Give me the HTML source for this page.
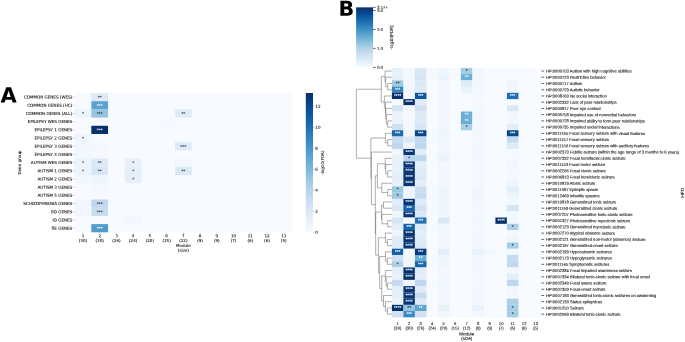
<!DOCTYPE html>
<html lang="en"><head><meta charset="utf-8"><title>Figure</title>
<style>html,body{margin:0;padding:0;background:#fff}svg{display:block;text-rendering:geometricPrecision}</style>
</head><body>
<svg width="685" height="342" viewBox="0 0 685 342">
<defs>
<linearGradient id="gb" x1="0" y1="0" x2="0" y2="1"><stop offset="0.0000" stop-color="#08306b"/><stop offset="0.0625" stop-color="#084082"/><stop offset="0.1250" stop-color="#08509b"/><stop offset="0.1875" stop-color="#1460a8"/><stop offset="0.2500" stop-color="#2070b4"/><stop offset="0.3125" stop-color="#3181bd"/><stop offset="0.3750" stop-color="#4191c6"/><stop offset="0.4375" stop-color="#56a0ce"/><stop offset="0.5000" stop-color="#6aaed6"/><stop offset="0.5625" stop-color="#84bcdb"/><stop offset="0.6250" stop-color="#9dcae1"/><stop offset="0.6875" stop-color="#b2d2e8"/><stop offset="0.7500" stop-color="#c6dbef"/><stop offset="0.8125" stop-color="#d2e3f3"/><stop offset="0.8750" stop-color="#deebf7"/><stop offset="0.9375" stop-color="#eaf3fb"/><stop offset="1.0000" stop-color="#f7fbff"/></linearGradient>
</defs>
<rect width="685" height="342" fill="#fff"/>
<g>
<g id="panelA" font-family="DejaVu Sans, Liberation Sans, sans-serif" font-size="4.08" fill="#111" stroke="#111" stroke-width="0.09">
<rect x="74.6" y="93.0" width="217.50" height="139.30" fill="#f7fbff" stroke="none"/>
<rect x="91.33" y="93.00" width="16.73" height="8.19" fill="#ddeaf7" stroke="none"/>
<rect x="91.33" y="101.19" width="16.73" height="8.19" fill="#5ba3d0" stroke="none"/>
<rect x="74.60" y="109.39" width="16.73" height="8.19" fill="#ecf4fb" stroke="none"/>
<rect x="91.33" y="109.39" width="16.73" height="8.19" fill="#94c4df" stroke="none"/>
<rect x="174.98" y="109.39" width="16.73" height="8.19" fill="#dfecf7" stroke="none"/>
<rect x="158.25" y="117.58" width="16.73" height="8.19" fill="#f5f9fe" stroke="none"/>
<rect x="91.33" y="125.78" width="16.73" height="8.19" fill="#08306b" stroke="none"/>
<rect x="74.60" y="133.97" width="16.73" height="8.19" fill="#eef5fc" stroke="none"/>
<rect x="74.60" y="142.16" width="16.73" height="8.19" fill="#f1f7fd" stroke="none"/>
<rect x="91.33" y="142.16" width="16.73" height="8.19" fill="#f3f8fe" stroke="none"/>
<rect x="174.98" y="142.16" width="16.73" height="8.19" fill="#ddeaf7" stroke="none"/>
<rect x="74.60" y="150.36" width="16.73" height="8.19" fill="#f3f8fe" stroke="none"/>
<rect x="91.33" y="150.36" width="16.73" height="8.19" fill="#f5f9fe" stroke="none"/>
<rect x="74.60" y="158.55" width="16.73" height="8.19" fill="#ebf3fb" stroke="none"/>
<rect x="91.33" y="158.55" width="16.73" height="8.19" fill="#dce9f6" stroke="none"/>
<rect x="124.79" y="158.55" width="16.73" height="8.19" fill="#e7f0fa" stroke="none"/>
<rect x="174.98" y="158.55" width="16.73" height="8.19" fill="#f2f7fd" stroke="none"/>
<rect x="74.60" y="166.75" width="16.73" height="8.19" fill="#ebf3fb" stroke="none"/>
<rect x="91.33" y="166.75" width="16.73" height="8.19" fill="#d8e7f5" stroke="none"/>
<rect x="124.79" y="166.75" width="16.73" height="8.19" fill="#e5eff9" stroke="none"/>
<rect x="174.98" y="166.75" width="16.73" height="8.19" fill="#d9e8f5" stroke="none"/>
<rect x="74.60" y="174.94" width="16.73" height="8.19" fill="#f2f7fd" stroke="none"/>
<rect x="91.33" y="174.94" width="16.73" height="8.19" fill="#eef5fc" stroke="none"/>
<rect x="124.79" y="174.94" width="16.73" height="8.19" fill="#e5eff9" stroke="none"/>
<rect x="91.33" y="183.14" width="16.73" height="8.19" fill="#f3f8fe" stroke="none"/>
<rect x="158.25" y="183.14" width="16.73" height="8.19" fill="#f5fafe" stroke="none"/>
<rect x="91.33" y="191.33" width="16.73" height="8.19" fill="#f5f9fe" stroke="none"/>
<rect x="74.60" y="199.52" width="16.73" height="8.19" fill="#f2f7fd" stroke="none"/>
<rect x="91.33" y="199.52" width="16.73" height="8.19" fill="#bfd8ed" stroke="none"/>
<rect x="74.60" y="207.72" width="16.73" height="8.19" fill="#f2f7fd" stroke="none"/>
<rect x="91.33" y="207.72" width="16.73" height="8.19" fill="#c8dcf0" stroke="none"/>
<rect x="124.79" y="215.91" width="16.73" height="8.19" fill="#f3f8fe" stroke="none"/>
<rect x="91.33" y="224.11" width="16.73" height="8.19" fill="#519ccc" stroke="none"/>
<text transform="rotate(0.05 99.70 98.75)" x="99.70" y="98.75" text-anchor="middle" fill="#262626" stroke="#262626">**</text>
<text transform="rotate(0.05 99.70 106.94)" x="99.70" y="106.94" text-anchor="middle" fill="#ffffff" stroke="#ffffff">***</text>
<text transform="rotate(0.05 82.97 115.14)" x="82.97" y="115.14" text-anchor="middle" fill="#262626" stroke="#262626">*</text>
<text transform="rotate(0.05 99.70 115.14)" x="99.70" y="115.14" text-anchor="middle" fill="#262626" stroke="#262626">***</text>
<text transform="rotate(0.05 183.35 115.14)" x="183.35" y="115.14" text-anchor="middle" fill="#262626" stroke="#262626">**</text>
<text transform="rotate(0.05 99.70 131.52)" x="99.70" y="131.52" text-anchor="middle" fill="#ffffff" stroke="#ffffff">***</text>
<text transform="rotate(0.05 82.97 139.72)" x="82.97" y="139.72" text-anchor="middle" fill="#262626" stroke="#262626">*</text>
<text transform="rotate(0.05 183.35 147.91)" x="183.35" y="147.91" text-anchor="middle" fill="#262626" stroke="#262626">***</text>
<text transform="rotate(0.05 82.97 164.30)" x="82.97" y="164.30" text-anchor="middle" fill="#262626" stroke="#262626">*</text>
<text transform="rotate(0.05 99.70 164.30)" x="99.70" y="164.30" text-anchor="middle" fill="#262626" stroke="#262626">**</text>
<text transform="rotate(0.05 133.16 164.30)" x="133.16" y="164.30" text-anchor="middle" fill="#262626" stroke="#262626">*</text>
<text transform="rotate(0.05 82.97 172.49)" x="82.97" y="172.49" text-anchor="middle" fill="#262626" stroke="#262626">*</text>
<text transform="rotate(0.05 99.70 172.49)" x="99.70" y="172.49" text-anchor="middle" fill="#262626" stroke="#262626">**</text>
<text transform="rotate(0.05 133.16 172.49)" x="133.16" y="172.49" text-anchor="middle" fill="#262626" stroke="#262626">*</text>
<text transform="rotate(0.05 183.35 172.49)" x="183.35" y="172.49" text-anchor="middle" fill="#262626" stroke="#262626">**</text>
<text transform="rotate(0.05 133.16 180.69)" x="133.16" y="180.69" text-anchor="middle" fill="#262626" stroke="#262626">*</text>
<text transform="rotate(0.05 99.70 205.27)" x="99.70" y="205.27" text-anchor="middle" fill="#262626" stroke="#262626">***</text>
<text transform="rotate(0.05 99.70 213.46)" x="99.70" y="213.46" text-anchor="middle" fill="#262626" stroke="#262626">***</text>
<text transform="rotate(0.05 99.70 229.85)" x="99.70" y="229.85" text-anchor="middle" fill="#ffffff" stroke="#ffffff">***</text>
<text transform="rotate(0.05 72.20 98.55)" x="72.20" y="98.55" text-anchor="end">COMMON GENES (WES)</text>
<line x1="72.60" x2="74.60" y1="97.10" y2="97.10" stroke="#555" stroke-width="0.35"/>
<text transform="rotate(0.05 72.20 106.74)" x="72.20" y="106.74" text-anchor="end">COMMON GENES (HC)</text>
<line x1="72.60" x2="74.60" y1="105.29" y2="105.29" stroke="#555" stroke-width="0.35"/>
<text transform="rotate(0.05 72.20 114.94)" x="72.20" y="114.94" text-anchor="end">COMMON GENES (ALL)</text>
<line x1="72.60" x2="74.60" y1="113.49" y2="113.49" stroke="#555" stroke-width="0.35"/>
<text transform="rotate(0.05 72.20 123.13)" x="72.20" y="123.13" text-anchor="end">EPILEPSY WES GENES</text>
<line x1="72.60" x2="74.60" y1="121.68" y2="121.68" stroke="#555" stroke-width="0.35"/>
<text transform="rotate(0.05 72.20 131.32)" x="72.20" y="131.32" text-anchor="end">EPILEPSY 1 GENES</text>
<line x1="72.60" x2="74.60" y1="129.87" y2="129.87" stroke="#555" stroke-width="0.35"/>
<text transform="rotate(0.05 72.20 139.52)" x="72.20" y="139.52" text-anchor="end">EPILEPSY 2 GENES</text>
<line x1="72.60" x2="74.60" y1="138.07" y2="138.07" stroke="#555" stroke-width="0.35"/>
<text transform="rotate(0.05 72.20 147.71)" x="72.20" y="147.71" text-anchor="end">EPILEPSY 3 GENES</text>
<line x1="72.60" x2="74.60" y1="146.26" y2="146.26" stroke="#555" stroke-width="0.35"/>
<text transform="rotate(0.05 72.20 155.91)" x="72.20" y="155.91" text-anchor="end">EPILEPSY 4 GENES</text>
<line x1="72.60" x2="74.60" y1="154.46" y2="154.46" stroke="#555" stroke-width="0.35"/>
<text transform="rotate(0.05 72.20 164.10)" x="72.20" y="164.10" text-anchor="end">AUTISM WES GENES</text>
<line x1="72.60" x2="74.60" y1="162.65" y2="162.65" stroke="#555" stroke-width="0.35"/>
<text transform="rotate(0.05 72.20 172.29)" x="72.20" y="172.29" text-anchor="end">AUTISM 1 GENES</text>
<line x1="72.60" x2="74.60" y1="170.84" y2="170.84" stroke="#555" stroke-width="0.35"/>
<text transform="rotate(0.05 72.20 180.49)" x="72.20" y="180.49" text-anchor="end">AUTISM 2 GENES</text>
<line x1="72.60" x2="74.60" y1="179.04" y2="179.04" stroke="#555" stroke-width="0.35"/>
<text transform="rotate(0.05 72.20 188.68)" x="72.20" y="188.68" text-anchor="end">AUTISM 3 GENES</text>
<line x1="72.60" x2="74.60" y1="187.23" y2="187.23" stroke="#555" stroke-width="0.35"/>
<text transform="rotate(0.05 72.20 196.88)" x="72.20" y="196.88" text-anchor="end">AUTISM 5 GENES</text>
<line x1="72.60" x2="74.60" y1="195.43" y2="195.43" stroke="#555" stroke-width="0.35"/>
<text transform="rotate(0.05 72.20 205.07)" x="72.20" y="205.07" text-anchor="end">SCHIZOPHRENIA GENES</text>
<line x1="72.60" x2="74.60" y1="203.62" y2="203.62" stroke="#555" stroke-width="0.35"/>
<text transform="rotate(0.05 72.20 213.26)" x="72.20" y="213.26" text-anchor="end">BD GENES</text>
<line x1="72.60" x2="74.60" y1="211.81" y2="211.81" stroke="#555" stroke-width="0.35"/>
<text transform="rotate(0.05 72.20 221.46)" x="72.20" y="221.46" text-anchor="end">ID GENES</text>
<line x1="72.60" x2="74.60" y1="220.01" y2="220.01" stroke="#555" stroke-width="0.35"/>
<text transform="rotate(0.05 72.20 229.65)" x="72.20" y="229.65" text-anchor="end">BE GENES</text>
<line x1="72.60" x2="74.60" y1="228.20" y2="228.20" stroke="#555" stroke-width="0.35"/>
<line x1="82.97" x2="82.97" y1="232.30" y2="233.50" stroke="#777" stroke-width="0.3"/>
<text transform="rotate(0.05 82.97 237.3)" x="82.97" y="237.3" text-anchor="middle">1</text>
<text transform="rotate(0.05 82.97 241.9)" x="82.97" y="241.9" text-anchor="middle">(30)</text>
<line x1="99.70" x2="99.70" y1="232.30" y2="233.50" stroke="#777" stroke-width="0.3"/>
<text transform="rotate(0.05 99.70 237.3)" x="99.70" y="237.3" text-anchor="middle">2</text>
<text transform="rotate(0.05 99.70 241.9)" x="99.70" y="241.9" text-anchor="middle">(30)</text>
<line x1="116.43" x2="116.43" y1="232.30" y2="233.50" stroke="#777" stroke-width="0.3"/>
<text transform="rotate(0.05 116.43 237.3)" x="116.43" y="237.3" text-anchor="middle">3</text>
<text transform="rotate(0.05 116.43 241.9)" x="116.43" y="241.9" text-anchor="middle">(26)</text>
<line x1="133.16" x2="133.16" y1="232.30" y2="233.50" stroke="#777" stroke-width="0.3"/>
<text transform="rotate(0.05 133.16 237.3)" x="133.16" y="237.3" text-anchor="middle">4</text>
<text transform="rotate(0.05 133.16 241.9)" x="133.16" y="241.9" text-anchor="middle">(24)</text>
<line x1="149.89" x2="149.89" y1="232.30" y2="233.50" stroke="#777" stroke-width="0.3"/>
<text transform="rotate(0.05 149.89 237.3)" x="149.89" y="237.3" text-anchor="middle">5</text>
<text transform="rotate(0.05 149.89 241.9)" x="149.89" y="241.9" text-anchor="middle">(20)</text>
<line x1="166.62" x2="166.62" y1="232.30" y2="233.50" stroke="#777" stroke-width="0.3"/>
<text transform="rotate(0.05 166.62 237.3)" x="166.62" y="237.3" text-anchor="middle">6</text>
<text transform="rotate(0.05 166.62 241.9)" x="166.62" y="241.9" text-anchor="middle">(15)</text>
<line x1="183.35" x2="183.35" y1="232.30" y2="233.50" stroke="#777" stroke-width="0.3"/>
<text transform="rotate(0.05 183.35 237.3)" x="183.35" y="237.3" text-anchor="middle">7</text>
<text transform="rotate(0.05 183.35 241.9)" x="183.35" y="241.9" text-anchor="middle">(12)</text>
<line x1="200.08" x2="200.08" y1="232.30" y2="233.50" stroke="#777" stroke-width="0.3"/>
<text transform="rotate(0.05 200.08 237.3)" x="200.08" y="237.3" text-anchor="middle">8</text>
<text transform="rotate(0.05 200.08 241.9)" x="200.08" y="241.9" text-anchor="middle">(9)</text>
<line x1="216.81" x2="216.81" y1="232.30" y2="233.50" stroke="#777" stroke-width="0.3"/>
<text transform="rotate(0.05 216.81 237.3)" x="216.81" y="237.3" text-anchor="middle">9</text>
<text transform="rotate(0.05 216.81 241.9)" x="216.81" y="241.9" text-anchor="middle">(9)</text>
<line x1="233.54" x2="233.54" y1="232.30" y2="233.50" stroke="#777" stroke-width="0.3"/>
<text transform="rotate(0.05 233.54 237.3)" x="233.54" y="237.3" text-anchor="middle">10</text>
<text transform="rotate(0.05 233.54 241.9)" x="233.54" y="241.9" text-anchor="middle">(7)</text>
<line x1="250.27" x2="250.27" y1="232.30" y2="233.50" stroke="#777" stroke-width="0.3"/>
<text transform="rotate(0.05 250.27 237.3)" x="250.27" y="237.3" text-anchor="middle">11</text>
<text transform="rotate(0.05 250.27 241.9)" x="250.27" y="241.9" text-anchor="middle">(6)</text>
<line x1="267.00" x2="267.00" y1="232.30" y2="233.50" stroke="#777" stroke-width="0.3"/>
<text transform="rotate(0.05 267.00 237.3)" x="267.00" y="237.3" text-anchor="middle">12</text>
<text transform="rotate(0.05 267.00 241.9)" x="267.00" y="241.9" text-anchor="middle">(6)</text>
<line x1="283.73" x2="283.73" y1="232.30" y2="233.50" stroke="#777" stroke-width="0.3"/>
<text transform="rotate(0.05 283.73 237.3)" x="283.73" y="237.3" text-anchor="middle">13</text>
<text transform="rotate(0.05 283.73 241.9)" x="283.73" y="241.9" text-anchor="middle">(5)</text>
<text transform="rotate(0.05 183.35 247.0)" x="183.35" y="247.0" text-anchor="middle">Module</text>
<text transform="rotate(0.05 183.35 251.7)" x="183.35" y="251.7" text-anchor="middle">(size)</text>
<text transform="translate(21.2,162.65) rotate(-90)" text-anchor="middle">Gene group</text>
<rect x="305.8" y="93.0" width="7.20" height="139.30" fill="url(#gb)" stroke="none"/>
<line x1="313.00" x2="314.30" y1="232.30" y2="232.30" stroke="#444" stroke-width="0.35"/>
<text transform="rotate(0.05 315.30 233.80)" x="315.30" y="233.80">0</text>
<line x1="313.00" x2="314.30" y1="211.31" y2="211.31" stroke="#444" stroke-width="0.35"/>
<text transform="rotate(0.05 315.30 212.81)" x="315.30" y="212.81">2</text>
<line x1="313.00" x2="314.30" y1="190.31" y2="190.31" stroke="#444" stroke-width="0.35"/>
<text transform="rotate(0.05 315.30 191.81)" x="315.30" y="191.81">4</text>
<line x1="313.00" x2="314.30" y1="169.32" y2="169.32" stroke="#444" stroke-width="0.35"/>
<text transform="rotate(0.05 315.30 170.82)" x="315.30" y="170.82">6</text>
<line x1="313.00" x2="314.30" y1="148.32" y2="148.32" stroke="#444" stroke-width="0.35"/>
<text transform="rotate(0.05 315.30 149.82)" x="315.30" y="149.82">8</text>
<line x1="313.00" x2="314.30" y1="127.33" y2="127.33" stroke="#444" stroke-width="0.35"/>
<text transform="rotate(0.05 315.30 128.83)" x="315.30" y="128.83">10</text>
<line x1="313.00" x2="314.30" y1="106.33" y2="106.33" stroke="#444" stroke-width="0.35"/>
<text transform="rotate(0.05 315.30 107.83)" x="315.30" y="107.83">12</text>
<text transform="translate(324.3,162.65) rotate(-90)" text-anchor="middle">-log10(FDR)</text>
</g>
<text transform="rotate(0.05 0.4 102.4)" x="0.4" y="102.4" font-family="DejaVu Sans, Liberation Sans, sans-serif" font-weight="bold" font-size="21" fill="#000">A</text>
<g id="panelB" font-family="Liberation Sans, Arial, sans-serif" font-size="4.1" fill="#262626" stroke="#262626" stroke-width="0.12">
<rect x="391.9" y="67.9" width="149.50" height="249.40" fill="#f7fbff" stroke="none"/>
<rect x="391.90" y="67.90" width="11.55" height="6.29" fill="#e7f1fa" stroke="none"/>
<rect x="403.40" y="67.90" width="11.55" height="6.29" fill="#f3f8fe" stroke="none"/>
<rect x="414.90" y="67.90" width="11.55" height="6.29" fill="#d9e8f5" stroke="none"/>
<rect x="426.40" y="67.90" width="11.55" height="6.29" fill="#f5f9fe" stroke="none"/>
<rect x="437.90" y="67.90" width="11.55" height="6.29" fill="#eef5fc" stroke="none"/>
<rect x="449.40" y="67.90" width="11.55" height="6.29" fill="#f5f9fe" stroke="none"/>
<rect x="460.90" y="67.90" width="11.55" height="6.29" fill="#a3cce3" stroke="none"/>
<rect x="472.40" y="67.90" width="11.55" height="6.29" fill="#f2f7fd" stroke="none"/>
<rect x="391.90" y="74.14" width="11.55" height="6.29" fill="#e5eff9" stroke="none"/>
<rect x="403.40" y="74.14" width="11.55" height="6.29" fill="#f3f8fe" stroke="none"/>
<rect x="414.90" y="74.14" width="11.55" height="6.29" fill="#d6e5f4" stroke="none"/>
<rect x="426.40" y="74.14" width="11.55" height="6.29" fill="#f5f9fe" stroke="none"/>
<rect x="437.90" y="74.14" width="11.55" height="6.29" fill="#eaf2fb" stroke="none"/>
<rect x="449.40" y="74.14" width="11.55" height="6.29" fill="#f5f9fe" stroke="none"/>
<rect x="460.90" y="74.14" width="11.55" height="6.29" fill="#6aaed6" stroke="none"/>
<rect x="472.40" y="74.14" width="11.55" height="6.29" fill="#f2f7fd" stroke="none"/>
<rect x="391.90" y="80.37" width="11.55" height="6.29" fill="#9cc9e1" stroke="none"/>
<rect x="403.40" y="80.37" width="11.55" height="6.29" fill="#f2f7fd" stroke="none"/>
<rect x="414.90" y="80.37" width="11.55" height="6.29" fill="#d9e8f5" stroke="none"/>
<rect x="437.90" y="80.37" width="11.55" height="6.29" fill="#f1f7fd" stroke="none"/>
<rect x="460.90" y="80.37" width="11.55" height="6.29" fill="#dfecf7" stroke="none"/>
<rect x="472.40" y="80.37" width="11.55" height="6.29" fill="#f2f7fd" stroke="none"/>
<rect x="506.90" y="80.37" width="11.55" height="6.29" fill="#eef5fc" stroke="none"/>
<rect x="391.90" y="86.61" width="11.55" height="6.29" fill="#3383be" stroke="none"/>
<rect x="403.40" y="86.61" width="11.55" height="6.29" fill="#eef5fc" stroke="none"/>
<rect x="414.90" y="86.61" width="11.55" height="6.29" fill="#dce9f6" stroke="none"/>
<rect x="437.90" y="86.61" width="11.55" height="6.29" fill="#f1f7fd" stroke="none"/>
<rect x="460.90" y="86.61" width="11.55" height="6.29" fill="#eaf2fb" stroke="none"/>
<rect x="472.40" y="86.61" width="11.55" height="6.29" fill="#f3f8fe" stroke="none"/>
<rect x="506.90" y="86.61" width="11.55" height="6.29" fill="#f1f7fd" stroke="none"/>
<rect x="391.90" y="92.84" width="11.55" height="6.29" fill="#08306b" stroke="none"/>
<rect x="403.40" y="92.84" width="11.55" height="6.29" fill="#f7fbff" stroke="none"/>
<rect x="414.90" y="92.84" width="11.55" height="6.29" fill="#0d57a1" stroke="none"/>
<rect x="437.90" y="92.84" width="11.55" height="6.29" fill="#f2f7fd" stroke="none"/>
<rect x="460.90" y="92.84" width="11.55" height="6.29" fill="#f5fafe" stroke="none"/>
<rect x="472.40" y="92.84" width="11.55" height="6.29" fill="#f5f9fe" stroke="none"/>
<rect x="506.90" y="92.84" width="11.55" height="6.29" fill="#1f6eb3" stroke="none"/>
<rect x="391.90" y="99.08" width="11.55" height="6.29" fill="#f5f9fe" stroke="none"/>
<rect x="403.40" y="99.08" width="11.55" height="6.29" fill="#08306b" stroke="none"/>
<rect x="414.90" y="99.08" width="11.55" height="6.29" fill="#dfecf7" stroke="none"/>
<rect x="437.90" y="99.08" width="11.55" height="6.29" fill="#f3f8fe" stroke="none"/>
<rect x="472.40" y="99.08" width="11.55" height="6.29" fill="#f5f9fe" stroke="none"/>
<rect x="391.90" y="105.31" width="11.55" height="6.29" fill="#d3e4f3" stroke="none"/>
<rect x="403.40" y="105.31" width="11.55" height="6.29" fill="#f3f8fe" stroke="none"/>
<rect x="414.90" y="105.31" width="11.55" height="6.29" fill="#cee0f2" stroke="none"/>
<rect x="437.90" y="105.31" width="11.55" height="6.29" fill="#f2f7fd" stroke="none"/>
<rect x="472.40" y="105.31" width="11.55" height="6.29" fill="#f3f8fe" stroke="none"/>
<rect x="506.90" y="105.31" width="11.55" height="6.29" fill="#d9e8f5" stroke="none"/>
<rect x="391.90" y="111.55" width="11.55" height="6.29" fill="#eaf2fb" stroke="none"/>
<rect x="403.40" y="111.55" width="11.55" height="6.29" fill="#f5f9fe" stroke="none"/>
<rect x="414.90" y="111.55" width="11.55" height="6.29" fill="#dce9f6" stroke="none"/>
<rect x="437.90" y="111.55" width="11.55" height="6.29" fill="#f2f7fd" stroke="none"/>
<rect x="460.90" y="111.55" width="11.55" height="6.29" fill="#6aaed6" stroke="none"/>
<rect x="472.40" y="111.55" width="11.55" height="6.29" fill="#f3f8fe" stroke="none"/>
<rect x="506.90" y="111.55" width="11.55" height="6.29" fill="#f2f7fd" stroke="none"/>
<rect x="391.90" y="117.78" width="11.55" height="6.29" fill="#eaf2fb" stroke="none"/>
<rect x="403.40" y="117.78" width="11.55" height="6.29" fill="#f5f9fe" stroke="none"/>
<rect x="414.90" y="117.78" width="11.55" height="6.29" fill="#dce9f6" stroke="none"/>
<rect x="437.90" y="117.78" width="11.55" height="6.29" fill="#f2f7fd" stroke="none"/>
<rect x="460.90" y="117.78" width="11.55" height="6.29" fill="#6aaed6" stroke="none"/>
<rect x="472.40" y="117.78" width="11.55" height="6.29" fill="#f3f8fe" stroke="none"/>
<rect x="506.90" y="117.78" width="11.55" height="6.29" fill="#f3f8fe" stroke="none"/>
<rect x="391.90" y="124.02" width="11.55" height="6.29" fill="#d0e1f2" stroke="none"/>
<rect x="403.40" y="124.02" width="11.55" height="6.29" fill="#f3f8fe" stroke="none"/>
<rect x="414.90" y="124.02" width="11.55" height="6.29" fill="#d6e5f4" stroke="none"/>
<rect x="437.90" y="124.02" width="11.55" height="6.29" fill="#f2f7fd" stroke="none"/>
<rect x="460.90" y="124.02" width="11.55" height="6.29" fill="#a9cfe5" stroke="none"/>
<rect x="472.40" y="124.02" width="11.55" height="6.29" fill="#f3f8fe" stroke="none"/>
<rect x="506.90" y="124.02" width="11.55" height="6.29" fill="#e3eef9" stroke="none"/>
<rect x="391.90" y="130.25" width="11.55" height="6.29" fill="#1b69af" stroke="none"/>
<rect x="403.40" y="130.25" width="11.55" height="6.29" fill="#f3f8fe" stroke="none"/>
<rect x="414.90" y="130.25" width="11.55" height="6.29" fill="#08458a" stroke="none"/>
<rect x="437.90" y="130.25" width="11.55" height="6.29" fill="#eef5fc" stroke="none"/>
<rect x="472.40" y="130.25" width="11.55" height="6.29" fill="#f3f8fe" stroke="none"/>
<rect x="506.90" y="130.25" width="11.55" height="6.29" fill="#084a91" stroke="none"/>
<rect x="391.90" y="136.49" width="11.55" height="6.29" fill="#c6dbef" stroke="none"/>
<rect x="403.40" y="136.49" width="11.55" height="6.29" fill="#d9e8f5" stroke="none"/>
<rect x="414.90" y="136.49" width="11.55" height="6.29" fill="#bfd8ed" stroke="none"/>
<rect x="437.90" y="136.49" width="11.55" height="6.29" fill="#eff6fc" stroke="none"/>
<rect x="472.40" y="136.49" width="11.55" height="6.29" fill="#f3f8fe" stroke="none"/>
<rect x="506.90" y="136.49" width="11.55" height="6.29" fill="#c6dbef" stroke="none"/>
<rect x="391.90" y="142.72" width="11.55" height="6.29" fill="#bfd8ed" stroke="none"/>
<rect x="403.40" y="142.72" width="11.55" height="6.29" fill="#ebf3fb" stroke="none"/>
<rect x="414.90" y="142.72" width="11.55" height="6.29" fill="#bfd8ed" stroke="none"/>
<rect x="437.90" y="142.72" width="11.55" height="6.29" fill="#f2f7fd" stroke="none"/>
<rect x="472.40" y="142.72" width="11.55" height="6.29" fill="#f2f7fd" stroke="none"/>
<rect x="506.90" y="142.72" width="11.55" height="6.29" fill="#ddeaf7" stroke="none"/>
<rect x="391.90" y="148.96" width="11.55" height="6.29" fill="#f2f7fd" stroke="none"/>
<rect x="403.40" y="148.96" width="11.55" height="6.29" fill="#083776" stroke="none"/>
<rect x="414.90" y="148.96" width="11.55" height="6.29" fill="#e3eef9" stroke="none"/>
<rect x="437.90" y="148.96" width="11.55" height="6.29" fill="#f2f7fd" stroke="none"/>
<rect x="472.40" y="148.96" width="11.55" height="6.29" fill="#f2f7fd" stroke="none"/>
<rect x="506.90" y="148.96" width="11.55" height="6.29" fill="#f5fafe" stroke="none"/>
<rect x="391.90" y="155.19" width="11.55" height="6.29" fill="#e7f1fa" stroke="none"/>
<rect x="403.40" y="155.19" width="11.55" height="6.29" fill="#b7d4ea" stroke="none"/>
<rect x="414.90" y="155.19" width="11.55" height="6.29" fill="#bdd7ec" stroke="none"/>
<rect x="437.90" y="155.19" width="11.55" height="6.29" fill="#eaf2fb" stroke="none"/>
<rect x="472.40" y="155.19" width="11.55" height="6.29" fill="#f3f8fe" stroke="none"/>
<rect x="506.90" y="155.19" width="11.55" height="6.29" fill="#f5f9fe" stroke="none"/>
<rect x="391.90" y="161.43" width="11.55" height="6.29" fill="#e7f1fa" stroke="none"/>
<rect x="403.40" y="161.43" width="11.55" height="6.29" fill="#083573" stroke="none"/>
<rect x="414.90" y="161.43" width="11.55" height="6.29" fill="#e3eef9" stroke="none"/>
<rect x="437.90" y="161.43" width="11.55" height="6.29" fill="#f2f7fd" stroke="none"/>
<rect x="472.40" y="161.43" width="11.55" height="6.29" fill="#f3f8fe" stroke="none"/>
<rect x="506.90" y="161.43" width="11.55" height="6.29" fill="#eff6fc" stroke="none"/>
<rect x="391.90" y="167.66" width="11.55" height="6.29" fill="#e7f1fa" stroke="none"/>
<rect x="403.40" y="167.66" width="11.55" height="6.29" fill="#083573" stroke="none"/>
<rect x="414.90" y="167.66" width="11.55" height="6.29" fill="#dfecf7" stroke="none"/>
<rect x="437.90" y="167.66" width="11.55" height="6.29" fill="#f2f7fd" stroke="none"/>
<rect x="472.40" y="167.66" width="11.55" height="6.29" fill="#f3f8fe" stroke="none"/>
<rect x="506.90" y="167.66" width="11.55" height="6.29" fill="#f5f9fe" stroke="none"/>
<rect x="391.90" y="173.90" width="11.55" height="6.29" fill="#e3eef9" stroke="none"/>
<rect x="403.40" y="173.90" width="11.55" height="6.29" fill="#083573" stroke="none"/>
<rect x="414.90" y="173.90" width="11.55" height="6.29" fill="#dce9f6" stroke="none"/>
<rect x="437.90" y="173.90" width="11.55" height="6.29" fill="#f2f7fd" stroke="none"/>
<rect x="472.40" y="173.90" width="11.55" height="6.29" fill="#f3f8fe" stroke="none"/>
<rect x="506.90" y="173.90" width="11.55" height="6.29" fill="#f5f9fe" stroke="none"/>
<rect x="391.90" y="180.13" width="11.55" height="6.29" fill="#e7f1fa" stroke="none"/>
<rect x="403.40" y="180.13" width="11.55" height="6.29" fill="#083573" stroke="none"/>
<rect x="414.90" y="180.13" width="11.55" height="6.29" fill="#e3eef9" stroke="none"/>
<rect x="437.90" y="180.13" width="11.55" height="6.29" fill="#f2f7fd" stroke="none"/>
<rect x="472.40" y="180.13" width="11.55" height="6.29" fill="#f3f8fe" stroke="none"/>
<rect x="506.90" y="180.13" width="11.55" height="6.29" fill="#eef5fc" stroke="none"/>
<rect x="391.90" y="186.37" width="11.55" height="6.29" fill="#9cc9e1" stroke="none"/>
<rect x="403.40" y="186.37" width="11.55" height="6.29" fill="#eef5fc" stroke="none"/>
<rect x="414.90" y="186.37" width="11.55" height="6.29" fill="#ccdff1" stroke="none"/>
<rect x="437.90" y="186.37" width="11.55" height="6.29" fill="#eef5fc" stroke="none"/>
<rect x="472.40" y="186.37" width="11.55" height="6.29" fill="#eef5fc" stroke="none"/>
<rect x="506.90" y="186.37" width="11.55" height="6.29" fill="#e3eef9" stroke="none"/>
<rect x="391.90" y="192.60" width="11.55" height="6.29" fill="#9cc9e1" stroke="none"/>
<rect x="403.40" y="192.60" width="11.55" height="6.29" fill="#eef5fc" stroke="none"/>
<rect x="414.90" y="192.60" width="11.55" height="6.29" fill="#c6dbef" stroke="none"/>
<rect x="437.90" y="192.60" width="11.55" height="6.29" fill="#eef5fc" stroke="none"/>
<rect x="472.40" y="192.60" width="11.55" height="6.29" fill="#eef5fc" stroke="none"/>
<rect x="506.90" y="192.60" width="11.55" height="6.29" fill="#ebf3fb" stroke="none"/>
<rect x="391.90" y="198.84" width="11.55" height="6.29" fill="#e3eef9" stroke="none"/>
<rect x="403.40" y="198.84" width="11.55" height="6.29" fill="#083573" stroke="none"/>
<rect x="414.90" y="198.84" width="11.55" height="6.29" fill="#ddeaf7" stroke="none"/>
<rect x="437.90" y="198.84" width="11.55" height="6.29" fill="#eef5fc" stroke="none"/>
<rect x="472.40" y="198.84" width="11.55" height="6.29" fill="#f2f7fd" stroke="none"/>
<rect x="506.90" y="198.84" width="11.55" height="6.29" fill="#f3f8fe" stroke="none"/>
<rect x="391.90" y="205.07" width="11.55" height="6.29" fill="#d9e8f5" stroke="none"/>
<rect x="403.40" y="205.07" width="11.55" height="6.29" fill="#1764ab" stroke="none"/>
<rect x="414.90" y="205.07" width="11.55" height="6.29" fill="#d0e1f2" stroke="none"/>
<rect x="437.90" y="205.07" width="11.55" height="6.29" fill="#eef5fc" stroke="none"/>
<rect x="472.40" y="205.07" width="11.55" height="6.29" fill="#f3f8fe" stroke="none"/>
<rect x="506.90" y="205.07" width="11.55" height="6.29" fill="#d6e5f4" stroke="none"/>
<rect x="391.90" y="211.31" width="11.55" height="6.29" fill="#eff6fc" stroke="none"/>
<rect x="403.40" y="211.31" width="11.55" height="6.29" fill="#083573" stroke="none"/>
<rect x="414.90" y="211.31" width="11.55" height="6.29" fill="#d9e8f5" stroke="none"/>
<rect x="437.90" y="211.31" width="11.55" height="6.29" fill="#eff6fc" stroke="none"/>
<rect x="472.40" y="211.31" width="11.55" height="6.29" fill="#f3f8fe" stroke="none"/>
<rect x="506.90" y="211.31" width="11.55" height="6.29" fill="#f3f8fe" stroke="none"/>
<rect x="391.90" y="217.54" width="11.55" height="6.29" fill="#d6e5f4" stroke="none"/>
<rect x="403.40" y="217.54" width="11.55" height="6.29" fill="#f7fbff" stroke="none"/>
<rect x="414.90" y="217.54" width="11.55" height="6.29" fill="#2070b4" stroke="none"/>
<rect x="437.90" y="217.54" width="11.55" height="6.29" fill="#d9e8f5" stroke="none"/>
<rect x="472.40" y="217.54" width="11.55" height="6.29" fill="#eff6fc" stroke="none"/>
<rect x="495.40" y="217.54" width="11.55" height="6.29" fill="#08306b" stroke="none"/>
<rect x="506.90" y="217.54" width="11.55" height="6.29" fill="#eff6fc" stroke="none"/>
<rect x="391.90" y="223.78" width="11.55" height="6.29" fill="#e3eef9" stroke="none"/>
<rect x="403.40" y="223.78" width="11.55" height="6.29" fill="#1764ab" stroke="none"/>
<rect x="414.90" y="223.78" width="11.55" height="6.29" fill="#ddeaf7" stroke="none"/>
<rect x="437.90" y="223.78" width="11.55" height="6.29" fill="#eff6fc" stroke="none"/>
<rect x="472.40" y="223.78" width="11.55" height="6.29" fill="#f3f8fe" stroke="none"/>
<rect x="506.90" y="223.78" width="11.55" height="6.29" fill="#add0e6" stroke="none"/>
<rect x="391.90" y="230.01" width="11.55" height="6.29" fill="#eef5fc" stroke="none"/>
<rect x="403.40" y="230.01" width="11.55" height="6.29" fill="#083573" stroke="none"/>
<rect x="414.90" y="230.01" width="11.55" height="6.29" fill="#e3eef9" stroke="none"/>
<rect x="437.90" y="230.01" width="11.55" height="6.29" fill="#f2f7fd" stroke="none"/>
<rect x="472.40" y="230.01" width="11.55" height="6.29" fill="#f3f8fe" stroke="none"/>
<rect x="506.90" y="230.01" width="11.55" height="6.29" fill="#f3f8fe" stroke="none"/>
<rect x="391.90" y="236.25" width="11.55" height="6.29" fill="#dfecf7" stroke="none"/>
<rect x="403.40" y="236.25" width="11.55" height="6.29" fill="#083573" stroke="none"/>
<rect x="414.90" y="236.25" width="11.55" height="6.29" fill="#ddeaf7" stroke="none"/>
<rect x="437.90" y="236.25" width="11.55" height="6.29" fill="#f2f7fd" stroke="none"/>
<rect x="472.40" y="236.25" width="11.55" height="6.29" fill="#f2f7fd" stroke="none"/>
<rect x="506.90" y="236.25" width="11.55" height="6.29" fill="#eef5fc" stroke="none"/>
<rect x="391.90" y="242.48" width="11.55" height="6.29" fill="#ddeaf7" stroke="none"/>
<rect x="403.40" y="242.48" width="11.55" height="6.29" fill="#083573" stroke="none"/>
<rect x="414.90" y="242.48" width="11.55" height="6.29" fill="#d9e8f5" stroke="none"/>
<rect x="437.90" y="242.48" width="11.55" height="6.29" fill="#f2f7fd" stroke="none"/>
<rect x="472.40" y="242.48" width="11.55" height="6.29" fill="#f2f7fd" stroke="none"/>
<rect x="506.90" y="242.48" width="11.55" height="6.29" fill="#a6cee4" stroke="none"/>
<rect x="391.90" y="248.72" width="11.55" height="6.29" fill="#135fa7" stroke="none"/>
<rect x="403.40" y="248.72" width="11.55" height="6.29" fill="#f7fbff" stroke="none"/>
<rect x="414.90" y="248.72" width="11.55" height="6.29" fill="#083c7d" stroke="none"/>
<rect x="437.90" y="248.72" width="11.55" height="6.29" fill="#e3eef9" stroke="none"/>
<rect x="472.40" y="248.72" width="11.55" height="6.29" fill="#eaf2fb" stroke="none"/>
<rect x="483.90" y="248.72" width="11.55" height="6.29" fill="#f2f7fd" stroke="none"/>
<rect x="506.90" y="248.72" width="11.55" height="6.29" fill="#f2f7fd" stroke="none"/>
<rect x="391.90" y="254.95" width="11.55" height="6.29" fill="#d0e1f2" stroke="none"/>
<rect x="403.40" y="254.95" width="11.55" height="6.29" fill="#eef5fc" stroke="none"/>
<rect x="414.90" y="254.95" width="11.55" height="6.29" fill="#6aaed6" stroke="none"/>
<rect x="437.90" y="254.95" width="11.55" height="6.29" fill="#eef5fc" stroke="none"/>
<rect x="472.40" y="254.95" width="11.55" height="6.29" fill="#f2f7fd" stroke="none"/>
<rect x="506.90" y="254.95" width="11.55" height="6.29" fill="#c6dbef" stroke="none"/>
<rect x="391.90" y="261.19" width="11.55" height="6.29" fill="#add0e6" stroke="none"/>
<rect x="403.40" y="261.19" width="11.55" height="6.29" fill="#eef5fc" stroke="none"/>
<rect x="414.90" y="261.19" width="11.55" height="6.29" fill="#1764ab" stroke="none"/>
<rect x="437.90" y="261.19" width="11.55" height="6.29" fill="#eef5fc" stroke="none"/>
<rect x="472.40" y="261.19" width="11.55" height="6.29" fill="#f2f7fd" stroke="none"/>
<rect x="506.90" y="261.19" width="11.55" height="6.29" fill="#bfd8ed" stroke="none"/>
<rect x="391.90" y="267.42" width="11.55" height="6.29" fill="#e3eef9" stroke="none"/>
<rect x="403.40" y="267.42" width="11.55" height="6.29" fill="#08326e" stroke="none"/>
<rect x="414.90" y="267.42" width="11.55" height="6.29" fill="#dfecf7" stroke="none"/>
<rect x="437.90" y="267.42" width="11.55" height="6.29" fill="#f2f7fd" stroke="none"/>
<rect x="472.40" y="267.42" width="11.55" height="6.29" fill="#f3f8fe" stroke="none"/>
<rect x="506.90" y="267.42" width="11.55" height="6.29" fill="#f2f7fd" stroke="none"/>
<rect x="391.90" y="273.66" width="11.55" height="6.29" fill="#e7f1fa" stroke="none"/>
<rect x="403.40" y="273.66" width="11.55" height="6.29" fill="#08326e" stroke="none"/>
<rect x="414.90" y="273.66" width="11.55" height="6.29" fill="#e3eef9" stroke="none"/>
<rect x="437.90" y="273.66" width="11.55" height="6.29" fill="#f2f7fd" stroke="none"/>
<rect x="472.40" y="273.66" width="11.55" height="6.29" fill="#f3f8fe" stroke="none"/>
<rect x="506.90" y="273.66" width="11.55" height="6.29" fill="#e3eef9" stroke="none"/>
<rect x="391.90" y="279.89" width="11.55" height="6.29" fill="#c6dbef" stroke="none"/>
<rect x="403.40" y="279.89" width="11.55" height="6.29" fill="#f2f7fd" stroke="none"/>
<rect x="414.90" y="279.89" width="11.55" height="6.29" fill="#bfd8ed" stroke="none"/>
<rect x="437.90" y="279.89" width="11.55" height="6.29" fill="#eff6fc" stroke="none"/>
<rect x="472.40" y="279.89" width="11.55" height="6.29" fill="#f3f8fe" stroke="none"/>
<rect x="506.90" y="279.89" width="11.55" height="6.29" fill="#bfd8ed" stroke="none"/>
<rect x="391.90" y="286.12" width="11.55" height="6.29" fill="#e3eef9" stroke="none"/>
<rect x="403.40" y="286.12" width="11.55" height="6.29" fill="#083573" stroke="none"/>
<rect x="414.90" y="286.12" width="11.55" height="6.29" fill="#dfecf7" stroke="none"/>
<rect x="437.90" y="286.12" width="11.55" height="6.29" fill="#f2f7fd" stroke="none"/>
<rect x="472.40" y="286.12" width="11.55" height="6.29" fill="#f3f8fe" stroke="none"/>
<rect x="506.90" y="286.12" width="11.55" height="6.29" fill="#eff6fc" stroke="none"/>
<rect x="391.90" y="292.36" width="11.55" height="6.29" fill="#e3eef9" stroke="none"/>
<rect x="403.40" y="292.36" width="11.55" height="6.29" fill="#083573" stroke="none"/>
<rect x="414.90" y="292.36" width="11.55" height="6.29" fill="#c6dbef" stroke="none"/>
<rect x="437.90" y="292.36" width="11.55" height="6.29" fill="#f2f7fd" stroke="none"/>
<rect x="472.40" y="292.36" width="11.55" height="6.29" fill="#f2f7fd" stroke="none"/>
<rect x="506.90" y="292.36" width="11.55" height="6.29" fill="#f3f8fe" stroke="none"/>
<rect x="391.90" y="298.60" width="11.55" height="6.29" fill="#ebf3fb" stroke="none"/>
<rect x="403.40" y="298.60" width="11.55" height="6.29" fill="#083573" stroke="none"/>
<rect x="414.90" y="298.60" width="11.55" height="6.29" fill="#dfecf7" stroke="none"/>
<rect x="437.90" y="298.60" width="11.55" height="6.29" fill="#f2f7fd" stroke="none"/>
<rect x="472.40" y="298.60" width="11.55" height="6.29" fill="#f3f8fe" stroke="none"/>
<rect x="506.90" y="298.60" width="11.55" height="6.29" fill="#add0e6" stroke="none"/>
<rect x="391.90" y="304.83" width="11.55" height="6.29" fill="#08306b" stroke="none"/>
<rect x="403.40" y="304.83" width="11.55" height="6.29" fill="#94c4df" stroke="none"/>
<rect x="414.90" y="304.83" width="11.55" height="6.29" fill="#5ba3d0" stroke="none"/>
<rect x="437.90" y="304.83" width="11.55" height="6.29" fill="#e7f1fa" stroke="none"/>
<rect x="472.40" y="304.83" width="11.55" height="6.29" fill="#eaf2fb" stroke="none"/>
<rect x="506.90" y="304.83" width="11.55" height="6.29" fill="#a6cee4" stroke="none"/>
<rect x="391.90" y="311.07" width="11.55" height="6.29" fill="#d0e1f2" stroke="none"/>
<rect x="403.40" y="311.07" width="11.55" height="6.29" fill="#3b8bc2" stroke="none"/>
<rect x="414.90" y="311.07" width="11.55" height="6.29" fill="#d0e1f2" stroke="none"/>
<rect x="437.90" y="311.07" width="11.55" height="6.29" fill="#f2f7fd" stroke="none"/>
<rect x="472.40" y="311.07" width="11.55" height="6.29" fill="#f3f8fe" stroke="none"/>
<rect x="506.90" y="311.07" width="11.55" height="6.29" fill="#a6cee4" stroke="none"/>
<text transform="rotate(0.05 466.65 72.37)" x="466.65" y="72.37" text-anchor="middle" font-size="4.6" fill="#262626" stroke="#262626">*</text>
<text transform="rotate(0.05 466.65 78.60)" x="466.65" y="78.60" text-anchor="middle" font-size="4.6" fill="#ffffff" stroke="#ffffff">**</text>
<text transform="rotate(0.05 397.65 84.84)" x="397.65" y="84.84" text-anchor="middle" font-size="4.6" fill="#262626" stroke="#262626">**</text>
<text transform="rotate(0.05 397.65 91.07)" x="397.65" y="91.07" text-anchor="middle" font-size="4.6" fill="#ffffff" stroke="#ffffff">***</text>
<text transform="rotate(0.05 397.65 97.31)" x="397.65" y="97.31" text-anchor="middle" font-size="4.6" fill="#ffffff" stroke="#ffffff">****</text>
<text transform="rotate(0.05 420.65 97.31)" x="420.65" y="97.31" text-anchor="middle" font-size="4.6" fill="#ffffff" stroke="#ffffff">***</text>
<text transform="rotate(0.05 512.65 97.31)" x="512.65" y="97.31" text-anchor="middle" font-size="4.6" fill="#ffffff" stroke="#ffffff">***</text>
<text transform="rotate(0.05 409.15 103.54)" x="409.15" y="103.54" text-anchor="middle" font-size="4.6" fill="#ffffff" stroke="#ffffff">****</text>
<text transform="rotate(0.05 466.65 116.01)" x="466.65" y="116.01" text-anchor="middle" font-size="4.6" fill="#ffffff" stroke="#ffffff">**</text>
<text transform="rotate(0.05 466.65 122.25)" x="466.65" y="122.25" text-anchor="middle" font-size="4.6" fill="#ffffff" stroke="#ffffff">**</text>
<text transform="rotate(0.05 466.65 128.48)" x="466.65" y="128.48" text-anchor="middle" font-size="4.6" fill="#262626" stroke="#262626">*</text>
<text transform="rotate(0.05 397.65 134.72)" x="397.65" y="134.72" text-anchor="middle" font-size="4.6" fill="#ffffff" stroke="#ffffff">***</text>
<text transform="rotate(0.05 420.65 134.72)" x="420.65" y="134.72" text-anchor="middle" font-size="4.6" fill="#ffffff" stroke="#ffffff">***</text>
<text transform="rotate(0.05 512.65 134.72)" x="512.65" y="134.72" text-anchor="middle" font-size="4.6" fill="#ffffff" stroke="#ffffff">***</text>
<text transform="rotate(0.05 409.15 153.42)" x="409.15" y="153.42" text-anchor="middle" font-size="4.6" fill="#ffffff" stroke="#ffffff">****</text>
<text transform="rotate(0.05 409.15 159.66)" x="409.15" y="159.66" text-anchor="middle" font-size="4.6" fill="#262626" stroke="#262626">*</text>
<text transform="rotate(0.05 409.15 165.89)" x="409.15" y="165.89" text-anchor="middle" font-size="4.6" fill="#ffffff" stroke="#ffffff">****</text>
<text transform="rotate(0.05 409.15 172.13)" x="409.15" y="172.13" text-anchor="middle" font-size="4.6" fill="#ffffff" stroke="#ffffff">****</text>
<text transform="rotate(0.05 409.15 178.36)" x="409.15" y="178.36" text-anchor="middle" font-size="4.6" fill="#ffffff" stroke="#ffffff">****</text>
<text transform="rotate(0.05 409.15 184.60)" x="409.15" y="184.60" text-anchor="middle" font-size="4.6" fill="#ffffff" stroke="#ffffff">****</text>
<text transform="rotate(0.05 397.65 190.83)" x="397.65" y="190.83" text-anchor="middle" font-size="4.6" fill="#262626" stroke="#262626">*</text>
<text transform="rotate(0.05 397.65 197.07)" x="397.65" y="197.07" text-anchor="middle" font-size="4.6" fill="#262626" stroke="#262626">*</text>
<text transform="rotate(0.05 409.15 203.30)" x="409.15" y="203.30" text-anchor="middle" font-size="4.6" fill="#ffffff" stroke="#ffffff">****</text>
<text transform="rotate(0.05 409.15 209.54)" x="409.15" y="209.54" text-anchor="middle" font-size="4.6" fill="#ffffff" stroke="#ffffff">***</text>
<text transform="rotate(0.05 409.15 215.77)" x="409.15" y="215.77" text-anchor="middle" font-size="4.6" fill="#ffffff" stroke="#ffffff">****</text>
<text transform="rotate(0.05 420.65 222.01)" x="420.65" y="222.01" text-anchor="middle" font-size="4.6" fill="#ffffff" stroke="#ffffff">***</text>
<text transform="rotate(0.05 501.15 222.01)" x="501.15" y="222.01" text-anchor="middle" font-size="4.6" fill="#ffffff" stroke="#ffffff">****</text>
<text transform="rotate(0.05 409.15 228.24)" x="409.15" y="228.24" text-anchor="middle" font-size="4.6" fill="#ffffff" stroke="#ffffff">***</text>
<text transform="rotate(0.05 512.65 228.24)" x="512.65" y="228.24" text-anchor="middle" font-size="4.6" fill="#262626" stroke="#262626">*</text>
<text transform="rotate(0.05 409.15 234.48)" x="409.15" y="234.48" text-anchor="middle" font-size="4.6" fill="#ffffff" stroke="#ffffff">****</text>
<text transform="rotate(0.05 409.15 240.71)" x="409.15" y="240.71" text-anchor="middle" font-size="4.6" fill="#ffffff" stroke="#ffffff">****</text>
<text transform="rotate(0.05 409.15 246.95)" x="409.15" y="246.95" text-anchor="middle" font-size="4.6" fill="#ffffff" stroke="#ffffff">****</text>
<text transform="rotate(0.05 512.65 246.95)" x="512.65" y="246.95" text-anchor="middle" font-size="4.6" fill="#262626" stroke="#262626">*</text>
<text transform="rotate(0.05 397.65 253.18)" x="397.65" y="253.18" text-anchor="middle" font-size="4.6" fill="#ffffff" stroke="#ffffff">***</text>
<text transform="rotate(0.05 420.65 253.18)" x="420.65" y="253.18" text-anchor="middle" font-size="4.6" fill="#ffffff" stroke="#ffffff">***</text>
<text transform="rotate(0.05 420.65 259.42)" x="420.65" y="259.42" text-anchor="middle" font-size="4.6" fill="#ffffff" stroke="#ffffff">**</text>
<text transform="rotate(0.05 397.65 265.65)" x="397.65" y="265.65" text-anchor="middle" font-size="4.6" fill="#262626" stroke="#262626">*</text>
<text transform="rotate(0.05 420.65 265.65)" x="420.65" y="265.65" text-anchor="middle" font-size="4.6" fill="#ffffff" stroke="#ffffff">***</text>
<text transform="rotate(0.05 409.15 271.89)" x="409.15" y="271.89" text-anchor="middle" font-size="4.6" fill="#ffffff" stroke="#ffffff">****</text>
<text transform="rotate(0.05 409.15 278.12)" x="409.15" y="278.12" text-anchor="middle" font-size="4.6" fill="#ffffff" stroke="#ffffff">****</text>
<text transform="rotate(0.05 409.15 290.59)" x="409.15" y="290.59" text-anchor="middle" font-size="4.6" fill="#ffffff" stroke="#ffffff">****</text>
<text transform="rotate(0.05 409.15 296.83)" x="409.15" y="296.83" text-anchor="middle" font-size="4.6" fill="#ffffff" stroke="#ffffff">****</text>
<text transform="rotate(0.05 409.15 303.06)" x="409.15" y="303.06" text-anchor="middle" font-size="4.6" fill="#ffffff" stroke="#ffffff">****</text>
<text transform="rotate(0.05 397.65 309.30)" x="397.65" y="309.30" text-anchor="middle" font-size="4.6" fill="#ffffff" stroke="#ffffff">****</text>
<text transform="rotate(0.05 409.15 309.30)" x="409.15" y="309.30" text-anchor="middle" font-size="4.6" fill="#262626" stroke="#262626">**</text>
<text transform="rotate(0.05 420.65 309.30)" x="420.65" y="309.30" text-anchor="middle" font-size="4.6" fill="#ffffff" stroke="#ffffff">**</text>
<text transform="rotate(0.05 512.65 309.30)" x="512.65" y="309.30" text-anchor="middle" font-size="4.6" fill="#262626" stroke="#262626">*</text>
<text transform="rotate(0.05 409.15 315.53)" x="409.15" y="315.53" text-anchor="middle" font-size="4.6" fill="#ffffff" stroke="#ffffff">***</text>
<text transform="rotate(0.05 512.65 315.53)" x="512.65" y="315.53" text-anchor="middle" font-size="4.6" fill="#262626" stroke="#262626">*</text>
<line x1="541.40" x2="544.20" y1="71.02" y2="71.02" stroke="#262626" stroke-width="0.7"/>
<text transform="rotate(0.05 546.00 72.47)" x="546.00" y="72.47">HP:0000753 Autism with high cognitive abilities</text>
<line x1="541.40" x2="544.20" y1="77.25" y2="77.25" stroke="#262626" stroke-width="0.7"/>
<text transform="rotate(0.05 546.00 78.70)" x="546.00" y="78.70">HP:0000723 Restrictive behavior</text>
<line x1="541.40" x2="544.20" y1="83.49" y2="83.49" stroke="#262626" stroke-width="0.7"/>
<text transform="rotate(0.05 546.00 84.94)" x="546.00" y="84.94">HP:0000717 Autism</text>
<line x1="541.40" x2="544.20" y1="89.72" y2="89.72" stroke="#262626" stroke-width="0.7"/>
<text transform="rotate(0.05 546.00 91.17)" x="546.00" y="91.17">HP:0000729 Autistic behavior</text>
<line x1="541.40" x2="544.20" y1="95.96" y2="95.96" stroke="#262626" stroke-width="0.7"/>
<text transform="rotate(0.05 546.00 97.41)" x="546.00" y="97.41">HP:0008763 No social interaction</text>
<line x1="541.40" x2="544.20" y1="102.19" y2="102.19" stroke="#262626" stroke-width="0.7"/>
<text transform="rotate(0.05 546.00 103.64)" x="546.00" y="103.64">HP:0002332 Lack of peer relationships</text>
<line x1="541.40" x2="544.20" y1="108.43" y2="108.43" stroke="#262626" stroke-width="0.7"/>
<text transform="rotate(0.05 546.00 109.88)" x="546.00" y="109.88">HP:0000817 Poor eye contact</text>
<line x1="541.40" x2="544.20" y1="114.66" y2="114.66" stroke="#262626" stroke-width="0.7"/>
<text transform="rotate(0.05 546.00 116.11)" x="546.00" y="116.11">HP:0000758 Impaired use of nonverbal behaviors</text>
<line x1="541.40" x2="544.20" y1="120.90" y2="120.90" stroke="#262626" stroke-width="0.7"/>
<text transform="rotate(0.05 546.00 122.35)" x="546.00" y="122.35">HP:0000728 Impaired ability to form peer relationships</text>
<line x1="541.40" x2="544.20" y1="127.13" y2="127.13" stroke="#262626" stroke-width="0.7"/>
<text transform="rotate(0.05 546.00 128.58)" x="546.00" y="128.58">HP:0000735 Impaired social interactions</text>
<line x1="541.40" x2="544.20" y1="133.37" y2="133.37" stroke="#262626" stroke-width="0.7"/>
<text transform="rotate(0.05 546.00 134.82)" x="546.00" y="134.82">HP:0011165 Focal sensory seizure with visual features</text>
<line x1="541.40" x2="544.20" y1="139.60" y2="139.60" stroke="#262626" stroke-width="0.7"/>
<text transform="rotate(0.05 546.00 141.05)" x="546.00" y="141.05">HP:0011157 Focal sensory seizure</text>
<line x1="541.40" x2="544.20" y1="145.84" y2="145.84" stroke="#262626" stroke-width="0.7"/>
<text transform="rotate(0.05 546.00 147.29)" x="546.00" y="147.29">HP:0011156 Focal sensory seizure with auditory features</text>
<line x1="541.40" x2="544.20" y1="152.07" y2="152.07" stroke="#262626" stroke-width="0.7"/>
<text transform="rotate(0.05 546.00 153.52)" x="546.00" y="153.52">HP:0002373 Febrile seizure (within the age range of 3 months to 6 years)</text>
<line x1="541.40" x2="544.20" y1="158.31" y2="158.31" stroke="#262626" stroke-width="0.7"/>
<text transform="rotate(0.05 546.00 159.76)" x="546.00" y="159.76">HP:0007332 Focal hemifacial clonic seizure</text>
<line x1="541.40" x2="544.20" y1="164.54" y2="164.54" stroke="#262626" stroke-width="0.7"/>
<text transform="rotate(0.05 546.00 165.99)" x="546.00" y="165.99">HP:0011153 Focal motor seizure</text>
<line x1="541.40" x2="544.20" y1="170.78" y2="170.78" stroke="#262626" stroke-width="0.7"/>
<text transform="rotate(0.05 546.00 172.23)" x="546.00" y="172.23">HP:0002266 Focal clonic seizure</text>
<line x1="541.40" x2="544.20" y1="177.01" y2="177.01" stroke="#262626" stroke-width="0.7"/>
<text transform="rotate(0.05 546.00 178.46)" x="546.00" y="178.46">HP:0006813 Focal hemiclonic seizure</text>
<line x1="541.40" x2="544.20" y1="183.25" y2="183.25" stroke="#262626" stroke-width="0.7"/>
<text transform="rotate(0.05 546.00 184.70)" x="546.00" y="184.70">HP:0010819 Atonic seizure</text>
<line x1="541.40" x2="544.20" y1="189.48" y2="189.48" stroke="#262626" stroke-width="0.7"/>
<text transform="rotate(0.05 546.00 190.93)" x="546.00" y="190.93">HP:0011097 Epileptic spasm</text>
<line x1="541.40" x2="544.20" y1="195.72" y2="195.72" stroke="#262626" stroke-width="0.7"/>
<text transform="rotate(0.05 546.00 197.17)" x="546.00" y="197.17">HP:0012469 Infantile spasms</text>
<line x1="541.40" x2="544.20" y1="201.95" y2="201.95" stroke="#262626" stroke-width="0.7"/>
<text transform="rotate(0.05 546.00 203.40)" x="546.00" y="203.40">HP:0010818 Generalized tonic seizure</text>
<line x1="541.40" x2="544.20" y1="208.19" y2="208.19" stroke="#262626" stroke-width="0.7"/>
<text transform="rotate(0.05 546.00 209.64)" x="546.00" y="209.64">HP:0011169 Generalized clonic seizure</text>
<line x1="541.40" x2="544.20" y1="214.42" y2="214.42" stroke="#262626" stroke-width="0.7"/>
<text transform="rotate(0.05 546.00 215.87)" x="546.00" y="215.87">HP:0007207 Photosensitive tonic-clonic seizure</text>
<line x1="541.40" x2="544.20" y1="220.66" y2="220.66" stroke="#262626" stroke-width="0.7"/>
<text transform="rotate(0.05 546.00 222.11)" x="546.00" y="222.11">HP:0001327 Photosensitive myoclonic seizure</text>
<line x1="541.40" x2="544.20" y1="226.89" y2="226.89" stroke="#262626" stroke-width="0.7"/>
<text transform="rotate(0.05 546.00 228.34)" x="546.00" y="228.34">HP:0002123 Generalized myoclonic seizure</text>
<line x1="541.40" x2="544.20" y1="233.13" y2="233.13" stroke="#262626" stroke-width="0.7"/>
<text transform="rotate(0.05 546.00 234.58)" x="546.00" y="234.58">HP:0007270 Atypical absence seizure</text>
<line x1="541.40" x2="544.20" y1="239.36" y2="239.36" stroke="#262626" stroke-width="0.7"/>
<text transform="rotate(0.05 546.00 240.81)" x="546.00" y="240.81">HP:0002121 Generalized non-motor (absence) seizure</text>
<line x1="541.40" x2="544.20" y1="245.60" y2="245.60" stroke="#262626" stroke-width="0.7"/>
<text transform="rotate(0.05 546.00 247.05)" x="546.00" y="247.05">HP:0002197 Generalized-onset seizure</text>
<line x1="541.40" x2="544.20" y1="251.83" y2="251.83" stroke="#262626" stroke-width="0.7"/>
<text transform="rotate(0.05 546.00 253.28)" x="546.00" y="253.28">HP:0002199 Hypocalcemic seizures</text>
<line x1="541.40" x2="544.20" y1="258.07" y2="258.07" stroke="#262626" stroke-width="0.7"/>
<text transform="rotate(0.05 546.00 259.52)" x="546.00" y="259.52">HP:0002173 Hypoglycemic seizures</text>
<line x1="541.40" x2="544.20" y1="264.30" y2="264.30" stroke="#262626" stroke-width="0.7"/>
<text transform="rotate(0.05 546.00 265.75)" x="546.00" y="265.75">HP:0011145 Symptomatic seizures</text>
<line x1="541.40" x2="544.20" y1="270.54" y2="270.54" stroke="#262626" stroke-width="0.7"/>
<text transform="rotate(0.05 546.00 271.99)" x="546.00" y="271.99">HP:0002384 Focal impaired awareness seizure</text>
<line x1="541.40" x2="544.20" y1="276.77" y2="276.77" stroke="#262626" stroke-width="0.7"/>
<text transform="rotate(0.05 546.00 278.22)" x="546.00" y="278.22">HP:0007334 Bilateral tonic-clonic seizure with focal onset</text>
<line x1="541.40" x2="544.20" y1="283.01" y2="283.01" stroke="#262626" stroke-width="0.7"/>
<text transform="rotate(0.05 546.00 284.46)" x="546.00" y="284.46">HP:0002349 Focal aware seizure</text>
<line x1="541.40" x2="544.20" y1="289.24" y2="289.24" stroke="#262626" stroke-width="0.7"/>
<text transform="rotate(0.05 546.00 290.69)" x="546.00" y="290.69">HP:0007359 Focal-onset seizure</text>
<line x1="541.40" x2="544.20" y1="295.48" y2="295.48" stroke="#262626" stroke-width="0.7"/>
<text transform="rotate(0.05 546.00 296.93)" x="546.00" y="296.93">HP:0007193 Generalized tonic-clonic seizures on awakening</text>
<line x1="541.40" x2="544.20" y1="301.71" y2="301.71" stroke="#262626" stroke-width="0.7"/>
<text transform="rotate(0.05 546.00 303.16)" x="546.00" y="303.16">HP:0002133 Status epilepticus</text>
<line x1="541.40" x2="544.20" y1="307.95" y2="307.95" stroke="#262626" stroke-width="0.7"/>
<text transform="rotate(0.05 546.00 309.40)" x="546.00" y="309.40">HP:0001250 Seizure</text>
<line x1="541.40" x2="544.20" y1="314.18" y2="314.18" stroke="#262626" stroke-width="0.7"/>
<text transform="rotate(0.05 546.00 315.63)" x="546.00" y="315.63">HP:0002069 Bilateral tonic-clonic seizure</text>
<text transform="rotate(0.05 397.65 324.9)" x="397.65" y="324.9" text-anchor="middle">1</text>
<text transform="rotate(0.05 397.65 329.5)" x="397.65" y="329.5" text-anchor="middle">(30)</text>
<text transform="rotate(0.05 409.15 324.9)" x="409.15" y="324.9" text-anchor="middle">2</text>
<text transform="rotate(0.05 409.15 329.5)" x="409.15" y="329.5" text-anchor="middle">(30)</text>
<text transform="rotate(0.05 420.65 324.9)" x="420.65" y="324.9" text-anchor="middle">3</text>
<text transform="rotate(0.05 420.65 329.5)" x="420.65" y="329.5" text-anchor="middle">(26)</text>
<text transform="rotate(0.05 432.15 324.9)" x="432.15" y="324.9" text-anchor="middle">4</text>
<text transform="rotate(0.05 432.15 329.5)" x="432.15" y="329.5" text-anchor="middle">(24)</text>
<text transform="rotate(0.05 443.65 324.9)" x="443.65" y="324.9" text-anchor="middle">5</text>
<text transform="rotate(0.05 443.65 329.5)" x="443.65" y="329.5" text-anchor="middle">(20)</text>
<text transform="rotate(0.05 455.15 324.9)" x="455.15" y="324.9" text-anchor="middle">6</text>
<text transform="rotate(0.05 455.15 329.5)" x="455.15" y="329.5" text-anchor="middle">(15)</text>
<text transform="rotate(0.05 466.65 324.9)" x="466.65" y="324.9" text-anchor="middle">7</text>
<text transform="rotate(0.05 466.65 329.5)" x="466.65" y="329.5" text-anchor="middle">(12)</text>
<text transform="rotate(0.05 478.15 324.9)" x="478.15" y="324.9" text-anchor="middle">8</text>
<text transform="rotate(0.05 478.15 329.5)" x="478.15" y="329.5" text-anchor="middle">(9)</text>
<text transform="rotate(0.05 489.65 324.9)" x="489.65" y="324.9" text-anchor="middle">9</text>
<text transform="rotate(0.05 489.65 329.5)" x="489.65" y="329.5" text-anchor="middle">(9)</text>
<text transform="rotate(0.05 501.15 324.9)" x="501.15" y="324.9" text-anchor="middle">10</text>
<text transform="rotate(0.05 501.15 329.5)" x="501.15" y="329.5" text-anchor="middle">(7)</text>
<text transform="rotate(0.05 512.65 324.9)" x="512.65" y="324.9" text-anchor="middle">11</text>
<text transform="rotate(0.05 512.65 329.5)" x="512.65" y="329.5" text-anchor="middle">(6)</text>
<text transform="rotate(0.05 524.15 324.9)" x="524.15" y="324.9" text-anchor="middle">12</text>
<text transform="rotate(0.05 524.15 329.5)" x="524.15" y="329.5" text-anchor="middle">(6)</text>
<text transform="rotate(0.05 535.65 324.9)" x="535.65" y="324.9" text-anchor="middle">13</text>
<text transform="rotate(0.05 535.65 329.5)" x="535.65" y="329.5" text-anchor="middle">(5)</text>
<text transform="rotate(0.05 466.65 335.5)" x="466.65" y="335.5" text-anchor="middle" font-size="4.5">Module</text>
<text transform="rotate(0.05 466.65 339.9)" x="466.65" y="339.9" text-anchor="middle" font-size="4.5">(size)</text>
<text transform="translate(684.3,192.60) rotate(-90)" text-anchor="middle" font-size="4.5">HPO</text>
<rect x="356.1" y="7.35" width="17.00" height="59.95" fill="url(#gb)" stroke="none"/>
<line x1="373.10" x2="375.70" y1="67.30" y2="67.30" stroke="#262626" stroke-width="0.7"/>
<text transform="rotate(0.05 377.30 68.75)" x="377.30" y="68.75">0.0</text>
<line x1="373.10" x2="375.70" y1="48.39" y2="48.39" stroke="#262626" stroke-width="0.7"/>
<text transform="rotate(0.05 377.30 49.84)" x="377.30" y="49.84">1.0</text>
<line x1="373.10" x2="375.70" y1="29.48" y2="29.48" stroke="#262626" stroke-width="0.7"/>
<text transform="rotate(0.05 377.30 30.93)" x="377.30" y="30.93">2.0</text>
<line x1="373.10" x2="375.70" y1="10.56" y2="10.56" stroke="#262626" stroke-width="0.7"/>
<text transform="rotate(0.05 377.30 12.01)" x="377.30" y="12.01">3.0</text>
<line x1="373.10" x2="375.70" y1="7.35" y2="7.35" stroke="#262626" stroke-width="0.7"/>
<text transform="rotate(0.05 377.30 8.80)" x="377.30" y="8.80">3.17+</text>
<text transform="translate(392.8,37.32) rotate(-90)" text-anchor="middle" font-size="4.4">-log10(FDR)</text>
<path d="M391.90,83.49H387.70V89.72H391.90M391.90,77.25H385.70V86.61H387.70M391.90,71.02H385.00V81.93H385.70M391.90,120.90H387.70V127.13H391.90M391.90,114.66H386.30V124.02H387.70M391.90,108.43H385.80V119.34H386.30M391.90,102.19H385.50V113.88H385.80M391.90,95.96H384.40V108.04H385.50M385.00,76.47H381.30V102.00H384.40M391.90,139.60H387.70V145.84H391.90M391.90,133.37H385.40V142.72H387.70M391.90,170.78H387.70V177.01H391.90M391.90,164.54H385.70V173.90H387.70M391.90,158.31H385.20V169.22H385.70M391.90,189.48H387.70V195.72H391.90M391.90,183.25H381.90V192.60H387.70M385.20,163.76H377.40V187.92H381.90M391.90,201.95H383.50V208.19H391.90M391.90,220.66H387.70V226.89H391.90M391.90,214.42H381.90V223.78H387.70M383.50,205.07H381.50V219.10H381.90M391.90,239.36H387.40V245.60H391.90M391.90,233.13H385.40V242.48H387.40M391.90,258.07H387.40V264.30H391.90M391.90,251.83H385.40V261.19H387.40M391.90,283.01H387.40V289.24H391.90M391.90,276.77H386.20V286.12H387.40M391.90,270.54H385.40V281.45H386.20M391.90,307.95H387.40V314.18H391.90M391.90,301.71H385.40V311.06H387.40M391.90,295.48H383.50V306.39H385.40M385.40,275.99H381.70V300.93H383.50M385.40,256.51H379.70V288.46H381.70M385.40,237.80H378.40V272.49H379.70M381.50,212.08H375.70V255.14H378.40M377.40,175.84H375.30V233.61H375.70M391.90,152.07H371.40V204.73H375.30M385.40,138.04H370.90V178.40H371.40M381.30,89.24H356.40V158.22H370.90" fill="none" stroke="#4d4d4d" stroke-width="0.45"/>
</g>
<text transform="rotate(0.05 338.4 15.8)" x="338.4" y="15.8" font-family="DejaVu Sans, Liberation Sans, sans-serif" font-weight="bold" font-size="20.6" fill="#000">B</text>
</g>
</svg>
</body></html>
